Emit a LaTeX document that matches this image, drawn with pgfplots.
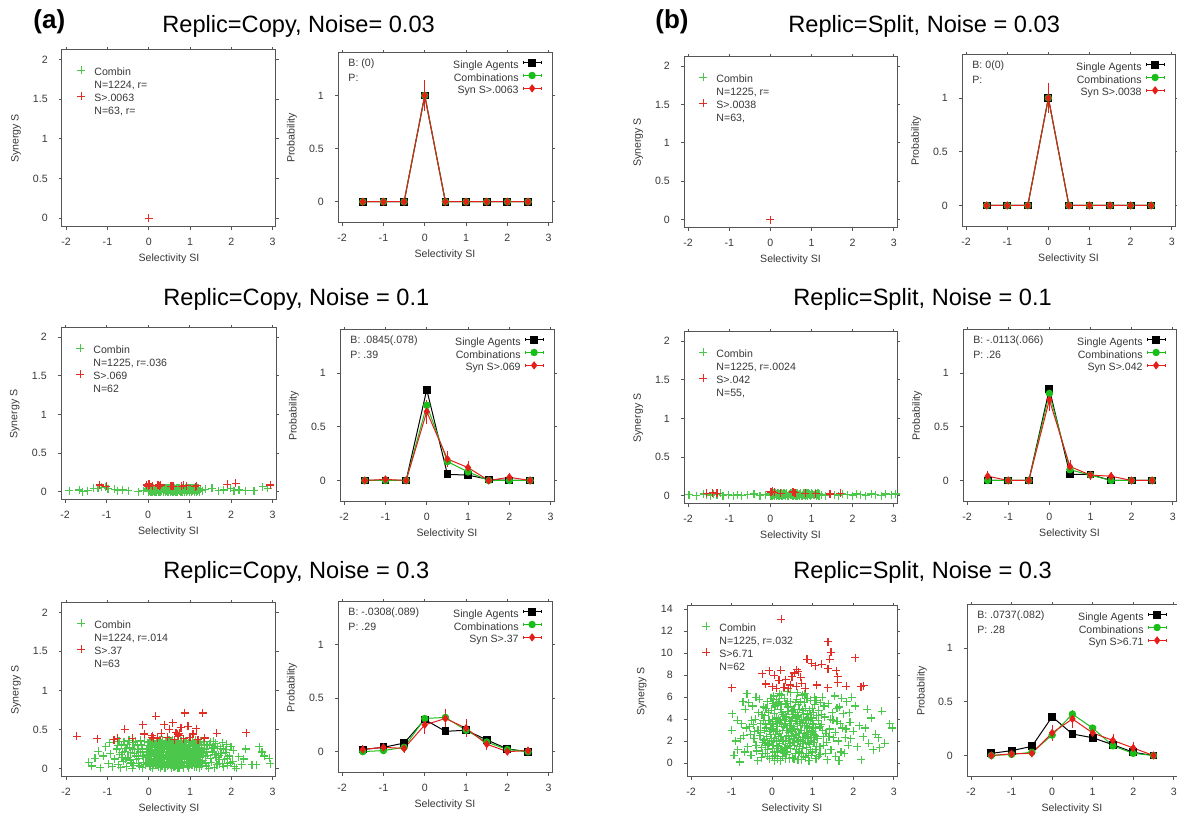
\documentclass[border=0pt]{standalone}
\usepackage{fontspec}
\setmainfont{Liberation Sans}
\usepackage{pgfplots}
\pgfplotsset{compat=1.18}

\definecolor{frame}{RGB}{85,85,85}
\definecolor{txt}{RGB}{55,55,55}
\definecolor{scg}{RGB}{75,200,75}
\definecolor{scr}{RGB}{225,45,35}
\definecolor{pg}{RGB}{25,190,25}
\definecolor{pr}{RGB}{230,30,25}

\newcommand\sm{\fontsize{5.3}{6.25}\selectfont}
\newcommand\ttl{\fontsize{11.8}{14}\selectfont}

\pgfplotsset{
  gp/.style={
    scale only axis, anchor=south west,
    xmin=-2.1, xmax=3.08, xtick={-2,-1,0,1,2,3},
    axis line style={frame, line width=0.5pt},
    tick style={frame, line width=0.4pt},
    tick align=outside, major tick length=1.6pt,
    tick pos=both, ticklabel pos=left,
    /pgf/number format/assume math mode=true,
    ticklabel style={font=\sm, text=txt},
    xticklabel style={anchor=center, yshift=-5.8pt},
    yticklabel style={anchor=east, xshift=-2pt},
    xlabel={Selectivity SI},
    label style={font=\sm, text=txt},
    xlabel style={at={(rel axis cs:0.5,0)}, anchor=center, yshift=-16pt},
    ylabel style={at={(rel axis cs:-0.215,0.5)}, anchor=center},
  },
  sc/.style={gp, ymin=-0.11, ymax=2.12, ytick={0,0.5,1,1.5,2}, ylabel={Synergy S},
    legend style={at={(rel axis cs:0,1)}, anchor=north west, xshift=5.5pt, yshift=-8pt,
      draw=none, fill=none, font=\sm, text=txt, inner sep=0pt, row sep=0.25pt, column sep=2pt,
      nodes={inner sep=0.5pt, text height=3.9pt, text depth=1.1pt}},
    legend cell align=left,
    legend image code/.code={\path[draw=none, fill=none] (0pt,0pt) rectangle (8pt,2pt);
      \draw[##1] plot[only marks] coordinates {(4pt,1.4pt)};},
  },
  pb/.style={gp, ymin=-0.2, ymax=1.4, ytick={0,0.5,1}, ylabel={Probability},
    legend style={at={(rel axis cs:1,1)}, anchor=north east, xshift=-5pt, yshift=-3pt,
      draw=none, fill=none, font=\sm, text=txt, inner sep=0pt, row sep=0.35pt, column sep=1.5pt,
      nodes={inner sep=0.5pt, text height=3.9pt, text depth=1.1pt}},
    legend cell align=right, legend plot pos=right,
    legend image code/.code={\path[draw=none, fill=none] (0pt,0pt) rectangle (9pt,2pt);
      \draw[mark repeat=2,mark phase=2,##1] plot coordinates {(0pt,1.4pt)(4.5pt,1.4pt)(9pt,1.4pt)};
      \draw[##1, mark=none, line width=0.4pt] (0pt,0.7pt)--(0pt,2.1pt) (9pt,0.7pt)--(9pt,2.1pt);},
  },
  gpts/.style={only marks, mark=+, mark size=2pt, scg, mark options={line width=0.6pt}},
  rpts/.style={only marks, mark=+, mark size=2pt, scr, mark options={line width=0.6pt}},
  sa/.style={black, line width=0.5pt, mark=square*, mark size=1.7pt},
  co/.style={pg, line width=0.5pt, mark=*, mark size=1.6pt},
  sy/.style={pr, line width=0.5pt, mark=diamond*, mark size=1.7pt},
  eb/.style={error bars/.cd, y dir=both, y explicit,
    error bar style={pr, line width=0.4pt}, error mark options={pr, mark size=1.2pt, line width=0.4pt}},
}

\begin{document}
\begin{tikzpicture}
\path[use as bounding box] (0,0) rectangle (588.5pt,409pt);
\clip (0,0) rectangle (588.5pt,409pt);

% titles
\node[font=\bfseries\fontsize{13}{15}\selectfont, anchor=base west, inner sep=0pt] at (16.5pt,394.5pt) {(a)};
\node[font=\bfseries\fontsize{13}{15}\selectfont, anchor=base west, inner sep=0pt] at (327.5pt,394.5pt) {(b)};
\node[font=\ttl, anchor=base west, inner sep=0pt] at (81pt,392.5pt) {Replic=Copy, Noise= 0.03};
\node[font=\ttl, anchor=base west, inner sep=0pt] at (394pt,392.5pt) {Replic=Split, Noise = 0.03};
\node[font=\ttl, anchor=base west, inner sep=0pt] at (81.5pt,256pt) {Replic=Copy, Noise = 0.1};
\node[font=\ttl, anchor=base west, inner sep=0pt] at (396.5pt,256pt) {Replic=Split, Noise = 0.1};
\node[font=\ttl, anchor=base west, inner sep=0pt] at (81.5pt,119.5pt) {Replic=Copy, Noise = 0.3};
\node[font=\ttl, anchor=base west, inner sep=0pt] at (396.5pt,119.5pt) {Replic=Split, Noise = 0.3};

% ---------- (a) row 1 ----------
\begin{axis}[sc, at={(31pt,295.5pt)}, width=107pt, height=88.5pt]
\addplot[gpts] coordinates {(0,0)}; \addlegendentry{Combin}
\addlegendimage{empty legend} \addlegendentry{N=1224, r=}
\addplot[rpts] coordinates {(0,0)}; \addlegendentry{S>.0063}
\addlegendimage{empty legend} \addlegendentry{N=63, r=}
\end{axis}

\begin{axis}[pb, at={(169pt,297.5pt)}, width=107pt, height=85pt]
\addplot[sa] coordinates {(-1.5,0)(-1,0)(-0.5,0)(0,1)(0.5,0)(1,0)(1.5,0)(2,0)(2.5,0)};
\addlegendentry{Single Agents}
\addplot[co] coordinates {(-1.5,0)(-1,0)(-0.5,0)(0,1)(0.5,0)(1,0)(1.5,0)(2,0)(2.5,0)};
\addlegendentry{Combinations}
\addplot[sy, eb] coordinates {(-1.5,0)(-1,0)(-0.5,0)(0,1) +- (0,0.12)(0.5,0)(1,0)(1.5,0)(2,0)(2.5,0)};
\addlegendentry{Syn S>.0063}
\node[font=\sm, text=txt, anchor=west, inner sep=0pt] at (rel axis cs:0.047,0.935) {B: (0)};
\node[font=\sm, text=txt, anchor=west, inner sep=0pt] at (rel axis cs:0.047,0.855) {P:};
\end{axis}

% ---------- (a) row 2 ----------
\begin{axis}[sc, at={(30.5pt,159pt)}, width=107.5pt, height=86pt]
\addplot[gpts] coordinates {
(-1.90,0.01)(-1.66,0.02)(-1.58,0.00)(-1.46,0.01)(-1.31,0.04)(-1.21,0.04)(-1.13,0.055)(-1.03,0.055)
(-0.97,0.035)(-0.81,0.03)(-0.73,0.01)(-0.61,0.02)(-0.48,0.01)(-0.24,0.00)(-0.12,0.01)
(1.30,0.01)(1.38,0.03)(1.54,0.04)(1.70,0.01)(1.82,0.02)(1.99,0.04)(2.07,0.01)(2.19,0.02)(2.35,0.01)
(2.55,0.01)(2.76,0.06)(2.88,0.04)
(0.00,0.00)(0.00,0.02)(0.00,0.04)(0.02,0.01)(0.03,0.03)(0.05,0.00)(0.06,0.05)(0.08,0.02)(0.10,0.04)(0.12,0.01)
(0.14,0.03)(0.16,0.00)(0.18,0.05)(0.20,0.02)(0.22,0.04)(0.24,0.01)(0.25,0.03)(0.26,0.00)(0.27,0.05)(0.28,0.02)
(0.30,0.04)(0.32,0.01)(0.34,0.03)(0.36,0.00)(0.38,0.04)(0.40,0.02)(0.42,0.05)(0.44,0.01)(0.46,0.03)(0.48,0.00)
(0.50,0.04)(0.52,0.02)(0.54,0.05)(0.56,0.01)(0.58,0.03)(0.60,0.00)(0.61,0.04)(0.62,0.02)(0.64,0.05)(0.66,0.01)
(0.68,0.03)(0.70,0.00)(0.72,0.04)(0.74,0.02)(0.76,0.05)(0.78,0.01)(0.80,0.03)(0.82,0.00)(0.84,0.04)(0.85,0.02)
(0.86,0.05)(0.88,0.01)(0.90,0.03)(0.92,0.00)(0.94,0.04)(0.96,0.02)(0.98,0.05)(1.00,0.01)(1.02,0.03)(1.04,0.00)
(1.06,0.04)(1.08,0.02)(1.10,0.05)(1.12,0.01)(1.14,0.03)(1.16,0.00)(1.18,0.04)(1.20,0.02)(1.22,0.03)(1.24,0.01)
(0.01,0.01)(0.03,0.05)(0.07,0.03)(0.09,0.00)(0.11,0.02)(0.13,0.05)(0.15,0.01)(0.17,0.03)(0.19,0.00)(0.21,0.04)
(0.23,0.02)(0.29,0.00)(0.31,0.05)(0.33,0.02)(0.35,0.04)(0.37,0.01)(0.39,0.03)(0.41,0.00)(0.43,0.04)(0.45,0.02)
(0.47,0.05)(0.49,0.01)(0.51,0.03)(0.53,0.00)(0.55,0.04)(0.57,0.02)(0.59,0.05)(0.63,0.01)(0.65,0.03)(0.67,0.00)
(0.69,0.04)(0.71,0.02)(0.73,0.05)(0.75,0.01)(0.77,0.03)(0.79,0.00)(0.81,0.04)(0.83,0.02)(0.87,0.00)(0.89,0.04)
(0.91,0.02)(0.93,0.05)(0.95,0.01)(0.97,0.03)(0.99,0.00)(1.01,0.04)(1.03,0.02)(1.05,0.05)(1.07,0.01)(1.09,0.03)
(1.11,0.00)(1.13,0.04)(1.15,0.02)(1.17,0.05)(1.19,0.01)(1.21,0.04)(1.23,0.00)(1.26,0.03)
};
\addlegendentry{Combin}
\addlegendimage{empty legend} \addlegendentry{N=1225, r=.036}
\addplot[rpts] coordinates {
(-1.17,0.085)(-1.01,0.07)(-0.04,0.085)(0.00,0.09)(0.00,0.07)(0.02,0.10)(0.04,0.08)(0.10,0.075)
(0.22,0.08)(0.25,0.09)(0.27,0.07)(0.30,0.085)(0.55,0.07)(0.60,0.065)(0.81,0.065)(0.86,0.08)
(0.93,0.077)(1.14,0.064)(1.17,0.075)(1.91,0.094)(2.11,0.107)(2.94,0.085)
};
\addlegendentry{S>.069}
\addlegendimage{empty legend} \addlegendentry{N=62}
\end{axis}

\begin{axis}[pb, at={(170pt,158pt)}, width=107pt, height=86pt]
\addplot[sa] coordinates {(-1.5,0)(-1,0)(-0.5,0)(0,0.845)(0.5,0.057)(1,0.05)(1.5,0.01)(2,0)(2.5,0)};
\addlegendentry{Single Agents}
\addplot[co] coordinates {(-1.5,0)(-1,0)(-0.5,0)(0,0.70)(0.5,0.176)(1,0.08)(1.5,0)(2,0)(2.5,0)};
\addlegendentry{Combinations}
\addplot[sy, eb] coordinates {(-1.5,0)(-1,0.01)(-0.5,0)(0,0.64) +- (0,0.09)(0.5,0.2) +- (0,0.05)
  (1,0.12) +- (0,0.04)(1.5,0)(2,0.03) +- (0,0.02)(2.5,0)};
\addlegendentry{Syn S>.069}
\node[font=\sm, text=txt, anchor=west, inner sep=0pt] at (rel axis cs:0.047,0.935) {B: .0845(.078)};
\node[font=\sm, text=txt, anchor=west, inner sep=0pt] at (rel axis cs:0.047,0.855) {P: .39};
\end{axis}

% ---------- (a) row 3 ----------
\begin{axis}[sc, at={(31pt,20.5pt)}, width=107pt, height=87pt]
\addplot[gpts] coordinates {
(-0.08,0.05)(-0.05,0.21)(-0.02,0.33)(0.01,0.12)(0.03,0.28)(0.05,0.02)(0.07,0.17)(0.09,0.36)(0.11,0.08)(0.13,0.24)
(0.15,0.31)(0.17,0.04)(0.19,0.15)(0.21,0.27)(0.23,0.10)(0.25,0.35)(0.27,0.19)(0.29,0.01)(0.31,0.22)(0.33,0.13)
(0.35,0.30)(0.37,0.06)(0.39,0.26)(0.41,0.16)(0.43,0.34)(0.45,0.03)(0.47,0.20)(0.49,0.11)(0.51,0.29)(0.53,0.07)
(0.55,0.23)(0.57,0.36)(0.59,0.14)(0.61,0.02)(0.63,0.25)(0.65,0.18)(0.67,0.32)(0.69,0.09)(0.71,0.21)(0.73,0.05)
(0.75,0.28)(0.77,0.15)(0.79,0.35)(0.81,0.11)(0.83,0.24)(0.85,0.01)(0.87,0.19)(0.89,0.30)(0.91,0.07)(0.93,0.26)
(0.95,0.13)(0.97,0.33)(0.99,0.04)(1.01,0.22)(1.03,0.17)(1.05,0.29)(1.07,0.09)(1.09,0.25)(1.11,0.02)(1.13,0.16)
(1.15,0.31)(1.17,0.12)(1.19,0.21)(1.21,0.06)(1.23,0.27)(1.25,0.14)(1.27,0.03)(1.29,0.19)
(-0.06,0.14)(-0.01,0.07)(0.02,0.19)(0.06,0.30)(0.10,0.00)(0.14,0.12)(0.18,0.23)(0.22,0.35)(0.26,0.06)(0.30,0.17)
(0.34,0.27)(0.38,0.01)(0.42,0.09)(0.46,0.31)(0.50,0.18)(0.54,0.35)(0.58,0.05)(0.62,0.13)(0.66,0.26)(0.70,0.34)
(0.74,0.00)(0.78,0.22)(0.82,0.31)(0.86,0.08)(0.90,0.16)(0.94,0.21)(0.98,0.28)(1.02,0.10)(1.06,0.35)(1.10,0.20)
(1.14,0.06)(1.18,0.27)(1.22,0.33)(1.26,0.09)
(0.00,0.26)(0.04,0.09)(0.08,0.22)(0.12,0.33)(0.16,0.18)(0.20,0.05)(0.24,0.29)(0.28,0.13)(0.32,0.03)(0.36,0.21)
(0.40,0.35)(0.44,0.15)(0.48,0.04)(0.52,0.25)(0.56,0.10)(0.60,0.30)(0.64,0.07)(0.68,0.14)(0.72,0.27)(0.76,0.36)
(0.80,0.04)(0.84,0.17)(0.88,0.25)(0.92,0.34)(0.96,0.01)(1.00,0.15)(1.04,0.04)(1.08,0.32)(1.12,0.24)(1.16,0.02)
(1.20,0.11)(1.24,0.22)(1.28,0.30)
(0.05,0.11)(0.15,0.07)(0.25,0.15)(0.35,0.11)(0.45,0.24)(0.55,0.01)(0.65,0.33)(0.75,0.20)(0.85,0.27)(0.95,0.06)
(1.05,0.12)(1.15,0.19)(0.10,0.27)(0.20,0.20)(0.30,0.32)(0.40,0.05)(0.50,0.36)(0.60,0.22)(0.70,0.16)(0.80,0.12)
(0.90,0.35)(1.00,0.30)(0.45,0.13)(0.55,0.16)(0.65,0.03)
(-0.04,0.29)(0.00,0.10)(0.03,0.35)(0.06,0.16)(0.09,0.24)(0.12,0.05)(0.15,0.21)(0.18,0.33)(0.21,0.12)(0.24,0.02)
(0.27,0.26)(0.30,0.08)(0.33,0.36)(0.36,0.15)(0.39,0.31)(0.42,0.20)(0.45,0.08)(0.48,0.28)(0.51,0.14)(0.54,0.27)
(0.57,0.04)(0.60,0.19)(0.63,0.35)(0.66,0.11)(0.69,0.24)(0.72,0.10)(0.75,0.03)(0.78,0.30)(0.81,0.18)(0.84,0.34)
(0.87,0.12)(0.90,0.23)(0.93,0.03)(0.96,0.29)(0.99,0.17)(1.02,0.36)(1.05,0.05)(1.08,0.15)(1.11,0.29)(1.14,0.36)
(1.17,0.08)(1.20,0.26)(1.23,0.17)(1.26,0.35)(1.29,0.07)(1.32,0.20)(1.34,0.29)
(-0.03,0.18)(0.02,0.27)(0.07,0.07)(0.12,0.19)(0.17,0.29)(0.22,0.14)(0.27,0.36)(0.32,0.24)(0.37,0.13)(0.42,0.28)
(0.47,0.36)(0.52,0.05)(0.57,0.18)(0.62,0.28)(0.67,0.05)(0.72,0.18)(0.77,0.09)(0.82,0.21)(0.87,0.33)(0.92,0.13)
(0.97,0.23)(1.02,0.06)(1.07,0.20)(1.12,0.12)(1.17,0.33)(1.22,0.01)(1.27,0.24)
(0.01,0.03)(0.06,0.23)(0.11,0.31)(0.16,0.10)(0.21,0.06)(0.26,0.22)(0.31,0.33)(0.36,0.26)(0.41,0.01)(0.46,0.17)
(0.51,0.22)(0.56,0.31)(0.61,0.09)(0.66,0.21)(0.71,0.01)(0.76,0.12)(0.81,0.26)(0.86,0.22)(0.91,0.29)(0.96,0.09)
(1.01,0.34)(1.06,0.23)(1.11,0.08)(1.16,0.25)(1.21,0.30)(1.26,0.19)
(-0.82,0.12)(-0.78,0.25)(-0.74,0.05)(-0.70,0.18)(-0.66,0.30)(-0.62,0.09)(-0.58,0.22)(-0.54,0.02)(-0.50,0.14)(-0.46,0.27)
(-0.42,0.07)(-0.38,0.33)(-0.34,0.19)(-0.30,0.11)(-0.26,0.24)(-0.22,0.03)(-0.18,0.31)(-0.14,0.16)(-0.12,0.08)(-0.72,0.35)
(-0.60,0.34)(-0.48,0.36)(-0.36,0.04)(-0.28,0.30)(-0.20,0.21)(-0.16,0.01)(-0.44,0.20)(-0.56,0.12)(-0.68,0.01)(-0.32,0.35)
(-0.24,0.13)(-0.40,0.26)(-0.52,0.31)(-0.64,0.20)(-0.10,0.34)
(-0.45,0.10)(-0.35,0.24)(-0.25,0.06)(-0.15,0.25)(-0.55,0.26)(-0.65,0.14)(-0.75,0.29)(-0.30,0.16)(-0.20,0.36)(-0.40,0.00)
(1.31,0.10)(1.35,0.25)(1.39,0.03)(1.43,0.17)(1.47,0.31)(1.51,0.08)(1.55,0.21)(1.59,0.01)(1.63,0.14)(1.67,0.28)
(1.71,0.06)(1.75,0.19)(1.79,0.33)(1.83,0.11)(1.87,0.24)(1.91,0.04)(1.95,0.16)(1.99,0.28)(2.03,0.09)(2.07,0.02)
(1.33,0.35)(1.41,0.29)(1.49,0.13)(1.57,0.35)(1.65,0.05)(1.73,0.26)(1.81,0.02)(1.89,0.31)(1.97,0.07)(1.45,0.00)
(1.37,0.15)(1.53,0.26)(1.69,0.17)(1.85,0.20)(2.05,0.23)
(1.40,0.21)(1.50,0.34)(1.60,0.18)(1.70,0.11)(1.80,0.25)(1.90,0.13)(1.38,0.07)(1.58,0.27)(1.78,0.06)(1.62,0.32)
(-1.45,0.08)(-1.38,0.03)(-1.30,0.13)(-1.22,0.22)(-1.17,0.01)(-1.10,0.16)(-1.04,0.28)(-0.98,0.06)(-0.93,0.19)
(-0.88,0.02)(-0.95,0.33)(2.12,0.00)(2.25,0.05)(2.35,0.25)(2.50,0.05)(2.60,0.05)(2.68,0.28)(2.74,0.21)
(2.80,0.16)(2.92,0.13)(2.94,0.06)(2.18,0.15)(2.30,0.12)
};
\addlegendentry{Combin}
\addlegendimage{empty legend} \addlegendentry{N=1224, r=.014}
\addplot[rpts] coordinates {
(-1.74,0.41)(-1.25,0.38)(-0.84,0.37)(-0.76,0.385)(-0.58,0.50)(-0.40,0.385)(-0.15,0.56)(-0.11,0.44)
(0.07,0.40)(0.09,0.42)(0.11,0.39)(0.17,0.67)(0.21,0.39)(0.38,0.56)(0.50,0.50)(0.58,0.585)(0.62,0.37)
(0.66,0.46)(0.70,0.44)(0.72,0.42)(0.74,0.45)(0.78,0.52)(0.87,0.71)(0.95,0.54)(1.07,0.44)(1.15,0.51)
(1.19,0.37)(1.31,0.71)(1.35,0.39)(1.64,0.45)(2.36,0.46)(0.30,0.45)(0.45,0.40)(1.00,0.40)(0.85,0.38)
};
\addlegendentry{S>.37}
\addlegendimage{empty legend} \addlegendentry{N=63}
\end{axis}

\begin{axis}[pb, at={(169pt,22.5pt)}, width=107pt, height=85.5pt]
\addplot[sa] coordinates {(-1.5,0.02)(-1,0.04)(-0.5,0.08)(0,0.30)(0.5,0.19)(1,0.20)(1.5,0.11)(2,0.025)(2.5,0)};
\addlegendentry{Single Agents}
\addplot[co] coordinates {(-1.5,0)(-1,0.01)(-0.5,0.04)(0,0.31)(0.5,0.32)(1,0.20)(1.5,0.09)(2,0.02)(2.5,0)};
\addlegendentry{Combinations}
\addplot[sy, eb] coordinates {(-1.5,0.02) +- (0,0.02)(-1,0.04) +- (0,0.02)(-0.5,0.03) +- (0,0.02)
  (0,0.25) +- (0,0.06)(0.5,0.31) +- (0,0.07)(1,0.22) +- (0,0.06)(1.5,0.07) +- (0,0.03)(2,0)(2.5,0.01)};
\addlegendentry{Syn S>.37}
\node[font=\sm, text=txt, anchor=west, inner sep=0pt] at (rel axis cs:0.047,0.935) {B: -.0308(.089)};
\node[font=\sm, text=txt, anchor=west, inner sep=0pt] at (rel axis cs:0.047,0.855) {P: .29};
\end{axis}

% ---------- (b) row 1 ----------
\begin{axis}[sc, at={(342pt,295pt)}, width=106.5pt, height=85.5pt]
\addplot[gpts] coordinates {(0,0)}; \addlegendentry{Combin}
\addlegendimage{empty legend} \addlegendentry{N=1225, r=}
\addplot[rpts] coordinates {(0,0)}; \addlegendentry{S>.0038}
\addlegendimage{empty legend} \addlegendentry{N=63,}
\end{axis}

\begin{axis}[pb, at={(481pt,295.5pt)}, width=106.5pt, height=86pt]
\addplot[sa] coordinates {(-1.5,0)(-1,0)(-0.5,0)(0,1)(0.5,0)(1,0)(1.5,0)(2,0)(2.5,0)};
\addlegendentry{Single Agents}
\addplot[co] coordinates {(-1.5,0)(-1,0)(-0.5,0)(0,1)(0.5,0)(1,0)(1.5,0)(2,0)(2.5,0)};
\addlegendentry{Combinations}
\addplot[sy, eb] coordinates {(-1.5,0)(-1,0)(-0.5,0)(0,1) +- (0,0.12)(0.5,0)(1,0)(1.5,0)(2,0)(2.5,0)};
\addlegendentry{Syn S>.0038}
\node[font=\sm, text=txt, anchor=west, inner sep=0pt] at (rel axis cs:0.047,0.935) {B: 0(0)};
\node[font=\sm, text=txt, anchor=west, inner sep=0pt] at (rel axis cs:0.047,0.855) {P:};
\end{axis}

% ---------- (b) row 2 ----------
\begin{axis}[sc, at={(342pt,157pt)}, width=106.5pt, height=86pt]
\addplot[gpts] coordinates {
(-1.98,0.01)(-1.80,0.00)(-1.62,0.02)(-1.55,0.01)(-1.45,0.00)(-1.38,0.02)(-1.30,0.01)(-1.22,0.03)(-1.15,0.00)
(-1.02,0.01)(-0.90,0.00)(-0.80,0.01)(-0.70,0.00)(-0.55,0.01)(-0.40,0.02)(-0.25,0.00)(-0.12,0.01)
(1.25,0.01)(1.35,0.00)(1.45,0.02)(1.55,0.01)(1.65,0.00)(1.75,0.02)(1.88,0.01)(2.00,0.00)(2.10,0.02)
(2.20,0.01)(2.32,0.00)(2.45,0.02)(2.55,0.01)(2.70,0.00)(2.80,0.02)(2.95,0.01)(3.05,0.02)
(0.00,0.00)(0.00,0.02)(0.02,0.01)(0.04,0.03)(0.06,0.00)(0.08,0.02)(0.10,0.01)(0.12,0.03)(0.14,0.00)(0.16,0.02)
(0.18,0.01)(0.20,0.03)(0.22,0.00)(0.24,0.02)(0.26,0.01)(0.28,0.03)(0.30,0.00)(0.32,0.02)(0.34,0.01)(0.38,0.02)
(0.42,0.00)(0.46,0.02)(0.50,0.01)(0.52,0.03)(0.54,0.00)(0.56,0.02)(0.58,0.01)(0.60,0.03)(0.62,0.00)(0.64,0.02)
(0.68,0.01)(0.72,0.02)(0.76,0.00)(0.80,0.02)(0.82,0.01)(0.84,0.03)(0.86,0.00)(0.88,0.02)(0.90,0.01)(0.94,0.02)
(0.98,0.00)(1.02,0.02)(1.06,0.01)(1.10,0.03)(1.12,0.00)(1.14,0.02)(1.16,0.01)(1.18,0.03)(1.20,0.00)(0.36,0.00)
(0.40,0.03)(0.44,0.01)(0.48,0.03)(0.66,0.03)(0.70,0.00)(0.74,0.03)(0.78,0.01)(0.92,0.03)(0.96,0.01)(1.00,0.03)
(0.01,0.01)(0.03,0.00)(0.05,0.02)(0.07,0.01)(0.09,0.03)(0.11,0.00)(0.13,0.02)(0.15,0.01)(0.17,0.03)(0.19,0.00)
(0.21,0.02)(0.23,0.01)(0.25,0.03)(0.27,0.00)(0.29,0.02)(0.53,0.01)(0.55,0.03)(0.57,0.00)(0.59,0.02)(0.61,0.01)
(0.63,0.03)(0.65,0.00)(0.85,0.02)(0.87,0.01)(0.89,0.03)(0.91,0.00)(1.11,0.02)(1.13,0.01)(1.15,0.03)(1.17,0.00)
(1.19,0.02)(0.31,0.01)(0.33,0.03)(0.45,0.00)(0.47,0.02)(0.67,0.01)(0.71,0.02)(0.79,0.00)(0.81,0.03)(0.99,0.01)
};
\addlegendentry{Combin}
\addlegendimage{empty legend} \addlegendentry{N=1225, r=.0024}
\addplot[rpts] coordinates {
(-1.55,0.03)(-1.40,0.035)(-1.30,0.03)(0.00,0.05)(0.02,0.04)(0.05,0.055)(0.10,0.04)(0.25,0.03)
(0.55,0.045)(0.60,0.035)(0.85,0.03)(1.10,0.025)(1.45,0.02)(1.70,0.03)
};
\addlegendentry{S>.042}
\addlegendimage{empty legend} \addlegendentry{N=55,}
\end{axis}

\begin{axis}[pb, at={(481.5pt,158pt)}, width=106.5pt, height=86pt]
\addplot[sa] coordinates {(-1.5,0)(-1,0)(-0.5,0)(0,0.85)(0.5,0.056)(1,0.056)(1.5,0)(2,0)(2.5,0)};
\addlegendentry{Single Agents}
\addplot[co] coordinates {(-1.5,0)(-1,0)(-0.5,0)(0,0.81)(0.5,0.10)(1,0.05)(1.5,0)(2,0)(2.5,0)};
\addlegendentry{Combinations}
\addplot[sy, eb] coordinates {(-1.5,0.04) +- (0,0.03)(-1,0)(-0.5,0)(0,0.75) +- (0,0.08)(0.5,0.13) +- (0,0.04)
  (1,0.05) +- (0,0.02)(1.5,0.04) +- (0,0.02)(2,0)(2.5,0)};
\addlegendentry{Syn S>.042}
\node[font=\sm, text=txt, anchor=west, inner sep=0pt] at (rel axis cs:0.047,0.935) {B: -.0113(.066)};
\node[font=\sm, text=txt, anchor=west, inner sep=0pt] at (rel axis cs:0.047,0.855) {P: .26};
\end{axis}

% ---------- (b) row 3 ----------
\begin{axis}[sc, at={(343.5pt,20.5pt)}, width=105pt, height=85.5pt,
  ymin=-1.27, ymax=14.3, ytick={0,2,4,6,8,10,12,14}]
\addplot[gpts] coordinates {
(-0.20,2.1)(-0.18,4.3)(-0.16,0.9)(-0.14,3.2)(-0.12,5.6)(-0.10,1.7)(-0.08,3.9)(-0.06,0.4)(-0.04,2.6)(-0.02,4.8)
(0.00,1.3)(0.02,3.5)(0.04,6.1)(0.06,2.2)(0.08,0.7)(0.10,4.1)(0.12,2.9)(0.14,5.3)(0.16,1.5)(0.18,3.7)
(0.20,0.2)(0.22,2.4)(0.24,4.6)(0.26,1.1)(0.28,3.3)(0.30,5.9)(0.32,2.0)(0.34,4.2)(0.36,0.8)(0.38,3.0)
(0.40,5.1)(0.42,1.6)(0.44,3.8)(0.46,6.4)(0.48,2.5)(0.50,0.5)(0.52,4.4)(0.54,1.9)(0.56,3.1)(0.58,5.5)
(0.60,1.2)(0.62,3.6)(0.64,0.3)(0.66,2.7)(0.68,4.9)(0.70,1.8)(0.72,4.0)(0.74,6.2)(0.76,2.3)(0.78,0.6)
(0.80,3.4)(0.82,5.0)(0.84,1.4)(0.86,2.8)(0.88,4.5)(0.90,0.9)(0.92,3.2)(0.94,5.7)(0.96,2.0)(0.98,4.1)
(1.00,1.0)(1.02,3.6)(1.04,6.0)(1.06,2.5)(1.08,0.4)(1.10,4.3)
(-0.19,3.0)(-0.15,5.0)(-0.11,1.2)(-0.07,2.9)(-0.03,5.9)(0.01,0.6)(0.05,4.5)(0.09,2.6)(0.13,1.0)(0.17,5.6)
(0.21,3.9)(0.25,2.0)(0.29,0.9)(0.33,3.6)(0.37,6.5)(0.41,2.8)(0.45,1.3)(0.49,4.8)(0.53,3.3)(0.57,0.9)
(0.61,5.8)(0.65,4.3)(0.69,2.1)(0.73,0.9)(0.77,3.9)(0.81,6.3)(0.85,3.6)(0.89,1.9)(0.93,4.8)(0.97,0.7)
(1.01,2.9)(1.05,5.3)(1.09,1.5)
(-0.17,1.6)(-0.09,4.6)(-0.01,3.1)(0.07,5.2)(0.15,2.4)(0.23,6.2)(0.31,1.4)(0.39,4.7)(0.47,3.4)(0.55,2.2)
(0.63,4.6)(0.71,3.0)(0.79,5.5)(0.87,2.4)(0.95,3.9)(1.03,1.9)(0.03,2.0)(0.11,3.6)(0.19,1.8)(0.27,4.4)
(0.35,2.4)(0.43,0.4)(0.51,2.9)(0.59,3.8)(0.67,1.5)(0.75,4.8)(0.83,2.2)(0.91,0.2)(0.99,5.0)(1.07,3.2)
(0.45,5.6)(0.55,1.6)(0.65,5.3)(0.35,3.0)(0.25,0.6)(0.15,4.0)(0.05,1.0)(0.85,4.1)(0.75,1.3)(0.95,2.6)
(-0.28,2.8)(-0.24,0.9)(-0.21,5.1)(-0.13,2.4)(-0.05,3.6)(0.02,5.4)(0.06,0.2)(0.10,2.0)(0.14,3.3)(0.18,6.3)
(0.22,1.3)(0.26,3.0)(0.30,4.0)(0.34,1.0)(0.38,5.6)(0.42,2.2)(0.46,3.0)(0.50,4.1)(0.54,0.4)(0.58,2.6)
(0.62,6.4)(0.66,1.0)(0.70,3.4)(0.74,2.0)(0.78,4.4)(0.82,0.5)(0.86,5.9)(0.90,2.6)(0.94,1.2)(0.98,3.0)
(1.02,4.6)(1.06,1.2)(1.10,2.4)(1.14,3.9)(1.18,1.5)(1.22,4.4)(1.26,2.4)
(-0.26,1.4)(-0.16,3.5)(-0.06,1.8)(0.04,3.0)(0.14,0.4)(0.24,3.6)(0.34,5.4)(0.44,1.8)(0.54,4.9)(0.64,2.0)
(0.74,3.6)(0.84,0.9)(0.94,4.4)(1.04,2.6)(1.14,0.6)
(-0.22,3.9)(-0.12,0.6)(-0.02,2.2)(0.08,3.8)(0.18,2.7)(0.28,2.0)(0.38,1.5)(0.48,3.9)(0.58,4.6)(0.68,3.8)
(0.78,1.8)(0.88,3.3)(0.98,2.3)(1.08,5.7)(1.18,3.3)
(0.00,4.0)(0.10,5.8)(0.20,4.9)(0.30,3.5)(0.40,2.5)(0.50,1.9)(0.60,2.5)(0.70,5.6)(0.80,2.7)(0.90,4.0)(1.00,3.5)
(0.12,1.5)(0.32,0.4)(0.52,2.4)(0.72,0.3)(0.92,1.7)(0.42,3.4)(0.62,4.2)(0.82,3.9)(0.22,5.3)(0.02,1.6)
(-0.98,4.5)(-1.00,3.0)(-0.80,0.1)(-0.62,6.3)(-0.90,2.0)(-0.85,1.2)(-0.75,3.6)(-0.70,2.5)(-0.66,4.9)(-0.60,1.5)
(-0.55,3.3)(-0.52,0.7)(-0.48,5.2)(-0.45,2.2)(-0.42,4.0)(-0.38,1.1)(-0.35,3.0)(-0.32,5.8)(-0.30,2.5)(-0.27,0.5)
(-0.25,4.4)(-0.23,1.9)(-0.58,5.5)(-0.40,6.0)(-0.68,1.0)(-0.50,3.9)(-0.28,3.6)(-0.36,0.2)(-0.44,2.9)(-0.78,2.2)
(-0.46,3.5)(-0.54,2.6)(-0.34,4.6)(-0.64,3.2)(-0.72,5.6)(-0.86,3.9)(-0.94,0.7)(-0.40,1.6)
(1.12,2.2)(1.15,4.8)(1.18,0.8)(1.21,3.5)(1.24,6.0)(1.27,1.6)(1.30,4.2)(1.33,2.7)(1.36,0.3)(1.39,5.4)
(1.42,3.1)(1.45,1.2)(1.48,4.6)(1.51,2.3)(1.54,6.1)(1.57,0.6)(1.60,3.8)(1.63,2.0)(1.66,5.1)(1.70,1.0)
(1.73,3.2)(1.76,4.5)(1.80,2.3)(1.84,5.6)(1.88,1.6)(1.92,3.7)(1.96,6.0)(2.00,2.9)(1.20,5.5)(1.35,1.9)
(1.50,3.9)(1.65,0.2)(1.78,0.9)(1.90,4.6)(1.25,3.0)
(1.28,5.2)(1.32,0.9)(1.44,4.0)(1.56,2.8)(1.68,3.6)(1.72,5.9)(1.82,3.1)(1.94,2.2)(1.40,2.4)(1.60,5.0)
(2.05,5.2)(2.10,1.5)(2.15,3.4)(2.20,0.3)(2.25,2.4)(2.30,3.2)(2.38,1.8)(2.45,4.1)(2.50,1.2)(2.55,2.6)
(2.62,2.3)(2.70,4.7)(2.78,1.8)(2.90,3.6)(2.96,3.2)(2.35,4.9)(2.65,1.4)
};
\addlegendentry{Combin}
\addlegendimage{empty legend} \addlegendentry{N=1225, r=.032}
\addplot[rpts] coordinates {
(0.23,13.1)(1.38,11.05)(1.45,10.1)(2.05,9.6)(-1.00,6.85)(-0.24,8.15)(-0.07,8.4)(0.21,8.45)(0.05,8.0)
(0.17,7.55)(0.33,7.6)(0.49,7.85)(0.61,8.5)(0.65,8.3)(0.86,9.45)(0.98,9.1)(1.06,8.85)(1.22,9.0)(1.42,9.45)
(1.38,8.6)(1.58,8.4)(1.62,7.85)(1.62,7.3)(1.83,7.0)(2.19,6.95)(2.26,7.05)(-0.16,7.2)(0.00,6.95)(0.29,6.9)
(0.45,7.1)(0.73,7.25)(0.82,6.8)(1.10,7.1)(1.37,6.85)(0.60,7.0)(0.40,6.8)(0.55,8.2)(0.10,6.8)(0.70,7.8)
};
\addlegendentry{S>6.71}
\addlegendimage{empty legend} \addlegendentry{N=62}
\end{axis}

\begin{axis}[pb, at={(483.5pt,20.5pt)}, width=105pt, height=86pt]
\addplot[sa] coordinates {(-1.5,0.02)(-1,0.045)(-0.5,0.085)(0,0.36)(0.5,0.20)(1,0.165)(1.5,0.10)(2,0.03)(2.5,0)};
\addlegendentry{Single Agents}
\addplot[co] coordinates {(-1.5,0)(-1,0.01)(-0.5,0.03)(0,0.19)(0.5,0.385)(1,0.255)(1.5,0.09)(2,0.02)(2.5,0)};
\addlegendentry{Combinations}
\addplot[sy, eb] coordinates {(-1.5,0)(-1,0.015) +- (0,0.015)(-0.5,0.02) +- (0,0.015)(0,0.21) +- (0,0.05)
  (0.5,0.34) +- (0,0.06)(1,0.21) +- (0,0.05)(1.5,0.14) +- (0,0.04)(2,0.07) +- (0,0.03)(2.5,0)};
\addlegendentry{Syn S>6.71}
\node[font=\sm, text=txt, anchor=west, inner sep=0pt] at (rel axis cs:0.047,0.935) {B: .0737(.082)};
\node[font=\sm, text=txt, anchor=west, inner sep=0pt] at (rel axis cs:0.047,0.855) {P: .28};
\end{axis}
\end{tikzpicture}
\end{document}
